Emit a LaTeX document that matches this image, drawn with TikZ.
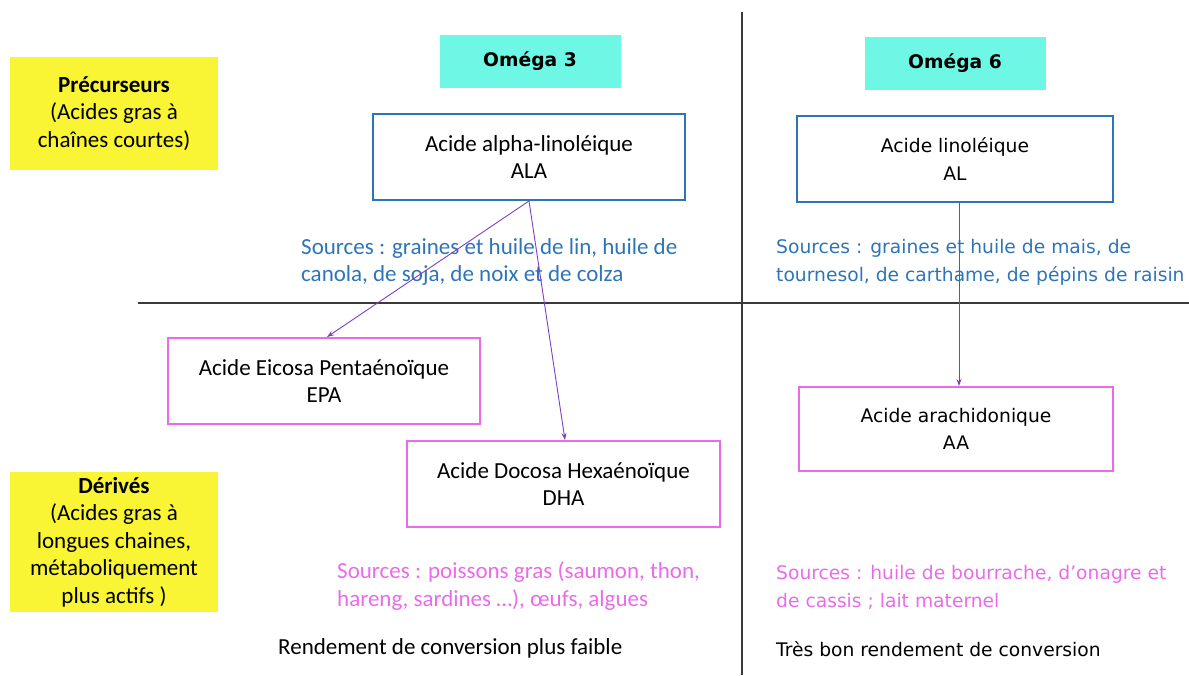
\documentclass[tikz,border=0pt]{standalone}
\usepackage{fontspec}
\setmainfont{Carlito}
\newfontfamily\widefont{DejaVu Sans}
\usetikzlibrary{arrows.meta}
\definecolor{jaune}{HTML}{F9F534}
\definecolor{cyan3}{HTML}{6FF7E6}
\definecolor{bleu}{HTML}{2E75B6}
\definecolor{rose}{HTML}{E96BEA}
\definecolor{violet}{HTML}{7F3FBF}
\definecolor{trait}{HTML}{3A3A3A}
\tikzset{
  cal/.style={font=\fontsize{23}{27.5}\selectfont,align=center},
  wide/.style={font=\widefont\fontsize{18.7}{27.5}\selectfont,align=center},
  etiq/.style={cal,fill=jaune,minimum width=208pt,inner sep=0pt},
  omega/.style={wide,fill=cyan3,minimum width=181pt,minimum height=53pt,inner sep=0pt},
  prec/.style={draw=bleu,line width=2pt,minimum width=312pt,minimum height=86pt,inner sep=0pt},
  deri/.style={draw=rose,line width=2pt,minimum width=312pt,minimum height=86pt,inner sep=0pt},
  conv/.style={draw=violet,line width=0.9pt,-{Stealth[length=7pt,width=5pt]}}
}
\begin{document}
\begin{tikzpicture}[x=1pt,y=-1pt]
\useasboundingbox (0,0) rectangle (1189,675);
\draw[line width=1.3pt,trait] (742,12) -- (742,675);
\draw[line width=1.3pt,trait] (138,303) -- (1189,303);
\node[etiq,minimum height=113pt] (precurseurs) at (114,113.5) {\textbf{Précurseurs}\\(Acides gras à\\chaînes courtes)};
\node[etiq,minimum height=140pt] (derives) at (114,542) {\textbf{Dérivés}\\(Acides gras à\\longues chaines,\\métaboliquement\\plus actifs )};
\node[omega] (om3) at (530,61.5) {\textbf{Oméga 3}};
\node[omega] (om6) at (955,63.5) {\textbf{Oméga 6}};
\node[prec,cal] (ala) at (529,157) {Acide alpha-linoléique\\ALA};
\node[prec,wide,minimum width=316pt] (al) at (955,159) {Acide linoléique\\AL};
\node[deri,cal] (epa) at (324,381) {Acide Eicosa Pentaénoïque\\EPA};
\node[deri,cal,minimum width=313pt] (dha) at (563.5,484) {Acide Docosa Hexaénoïque\\DHA};
\node[deri,wide,minimum width=314pt,minimum height=84pt] (aa) at (956,429) {Acide arachidonique\\AA};
\node[cal,align=left,text=bleu,anchor=west,inner sep=0pt] (src3) at (301,262) {Sources : graines et huile de lin, huile de\\canola, de soja, de noix et de colza};
\node[wide,align=left,text=bleu,anchor=west,inner sep=0pt] (src6) at (776,262.5) {Sources : graines et huile de mais, de\\tournesol, de carthame, de pépins de raisin};
\node[cal,align=left,text=rose,anchor=west,inner sep=0pt] (srcd3) at (337,586) {Sources : poissons gras (saumon, thon,\\hareng, sardines …), œufs, algues};
\node[wide,align=left,text=rose,anchor=west,inner sep=0pt] (srcd6) at (776,587.5) {Sources : huile de bourrache, d’onagre et\\de cassis ; lait maternel};
\node[cal,anchor=west,inner sep=0pt] (rend3) at (278,648) {Rendement de conversion plus faible};
\node[wide,anchor=west,inner sep=0pt] (rend6) at (776,649) {Très bon rendement de conversion};
\draw[conv] (ala.south) -- ([xshift=3pt]epa.north);
\draw[conv] (ala.south) -- ([xshift=1.5pt]dha.north);
\draw[conv] ([xshift=4pt]al.south) -- ([xshift=3pt]aa.north);
\end{tikzpicture}
\end{document}
